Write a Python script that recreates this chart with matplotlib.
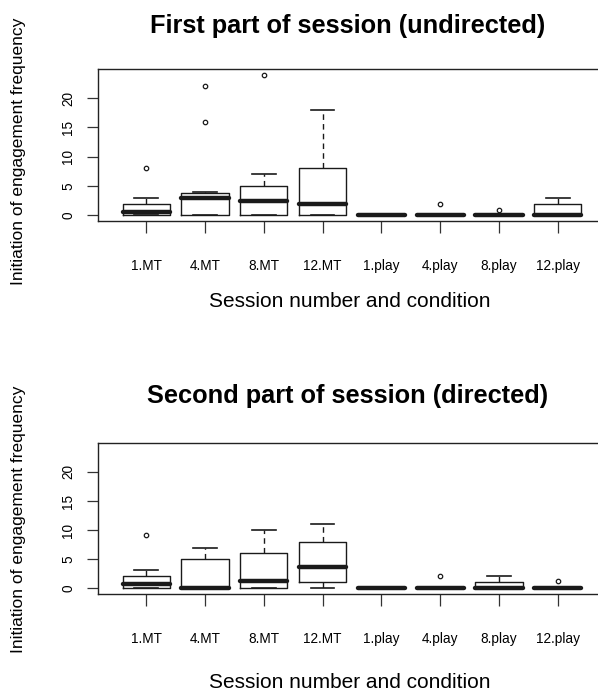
import matplotlib
matplotlib.use("Agg")
import matplotlib.pyplot as plt

plt.rcParams['font.family'] = ['Liberation Sans', 'DejaVu Sans']

categories = ["1.MT", "4.MT", "8.MT", "12.MT", "1.play", "4.play", "8.play", "12.play"]

# Panel 1: First part of session (undirected)
p1_whislo = [0, 0, 0, 0, 0, 0, 0, 0]
p1_q1     = [0, 0, 0, 0, 0, 0, 0, 0]
p1_med    = [0.5, 3, 2.5, 2, 0, 0, 0, 0]
p1_q3     = [2, 3.8, 5, 8, 0, 0, 0, 2]
p1_whishi = [3, 4, 7, 18, 0, 0, 0, 3]
p1_fliers = [[8], [16, 22], [24], [], [], [2], [1], []]

# Panel 2: Second part of session (directed)
p2_whislo = [0, 0, 0, 0, 0, 0, 0, 0]
p2_q1     = [0, 0, 0, 1.1, 0, 0, 0, 0]
p2_med    = [0.7, 0, 1.2, 3.6, 0, 0, 0, 0]
p2_q3     = [2.1, 5, 6.1, 8, 0, 0, 1.1, 0]
p2_whishi = [3.2, 7, 10, 11, 0, 0, 2.1, 0]
p2_fliers = [[9.2], [], [], [], [], [2.1], [], [1.2]]

titles = ["First part of session (undirected)", "Second part of session (directed)"]
xlabel = "Session number and condition"
ylabel = "Initiation of engagement frequency"
yticks = [0, 5, 10, 15, 20]

W, H = 598, 692
fig = plt.figure(figsize=(W / 100, H / 100), dpi=100)

def fy(py):
    return 1 - py / H

panels = [
    (p1_whislo, p1_q1, p1_med, p1_q3, p1_whishi, p1_fliers, 69, 221, 32.5, 307, 151),
    (p2_whislo, p2_q1, p2_med, p2_q3, p2_whishi, p2_fliers, 443, 594, 403, 688, 519),
]

for i, (wl, q1, med, q3, wh, fl, top, bot, tbase, xlbase, ylc) in enumerate(panels):
    left, right = 98, 606
    ax = fig.add_axes([left / W, fy(bot), (right - left) / W, (bot - top) / H])
    stats = []
    for j, c in enumerate(categories):
        stats.append(dict(label=c, whislo=wl[j], q1=q1[j], med=med[j], q3=q3[j],
                          whishi=wh[j], fliers=fl[j]))
    pos = list(range(1, len(categories) + 1))
    ax.bxp(stats, positions=pos, widths=0.8, capwidths=0.4,
           boxprops=dict(color='#1a1a1a', linewidth=1.0),
           whiskerprops=dict(color='#1a1a1a', linewidth=1.0, linestyle=(0, (4, 3))),
           capprops=dict(color='#1a1a1a', linewidth=1.2),
           medianprops=dict(color='#1a1a1a', linewidth=3.2, solid_capstyle='round'),
           flierprops=dict(marker='o', markersize=3.2, markerfacecolor='none',
                           markeredgecolor='#1a1a1a', markeredgewidth=0.9))
    ax.set_xlim(0.18, 8.82)
    ax.set_ylim(-0.96, 24.96)
    ax.set_yticks(yticks)
    ax.set_yticklabels([str(v) for v in yticks], rotation=90, va='center')
    ax.set_xticks(pos)
    ax.set_xticklabels(categories)
    ax.tick_params(axis='x', direction='out', length=8.5, width=0.9, pad=19, labelsize=9.8,
                   color='#333333')
    ax.tick_params(axis='y', direction='out', length=8, width=0.9, pad=8.5, labelsize=9.8,
                   color='#333333')
    for s in ax.spines.values():
        s.set_linewidth(1.0)
        s.set_color('#222222')
    fig.text(348 / W, fy(tbase), titles[i], ha='center', va='baseline',
             fontsize=18.3, fontweight='bold')
    fig.text(350 / W, fy(xlbase), xlabel, ha='center', va='baseline', fontsize=15)
    fig.text(19 / W, fy(ylc), ylabel, ha='center', va='center',
             rotation=90, fontsize=12.5)

fig.savefig("out.png", dpi=100)
